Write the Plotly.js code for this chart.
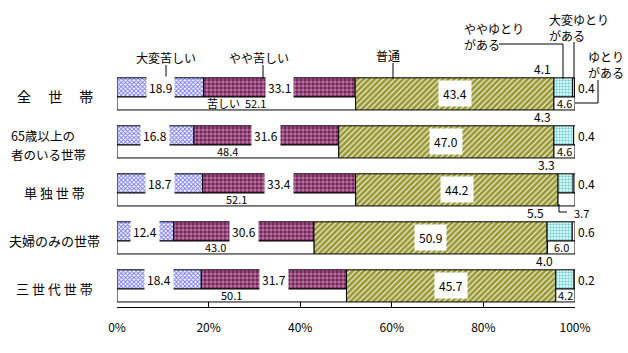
<!DOCTYPE html>
<html>
<head>
<meta charset="utf-8">
<script src="https://cdn.plot.ly/plotly-3.0.1.min.js"></script>
<style>html,body{margin:0;padding:0;background:#fff;}#chart{width:628px;height:353px;}</style>
</head>
<body>
<div id="chart"></div>
<script>
// ---- data ----
const categories = ['全世帯', '65歳以上の者のいる世帯', '単独世帯', '夫婦のみの世帯', '三世代世帯'];
const categoryLabels = ['全　 世　 帯', '65歳以上の<br>者のいる世帯', '単 独 世 帯', '夫婦のみの世帯', '三 世 代 世 帯'];
const veryHard = [18.9, 16.8, 18.7, 12.4, 18.4];        // 大変苦しい
const somewhatHard = [33.1, 31.6, 33.4, 30.6, 31.7];    // やや苦しい
const normal = [43.4, 47.0, 44.2, 50.9, 45.7];          // 普通
const somewhatEasy = [4.1, 4.3, 3.3, 5.5, 4.0];         // ややゆとりがある
const veryEasy = [0.4, 0.4, 0.4, 0.6, 0.2];             // 大変ゆとりがある
const hardTotal = [52.1, 48.4, 52.1, 43.0, 50.1];       // 苦しい
const easyTotal = [4.6, 4.6, 3.7, 6.0, 4.2];            // ゆとりがある
const xTicks = [0, 20, 40, 60, 80, 100];

// ---- geometry helpers (style only) ----
const FONT = '"Noto Sans CJK JP", "Noto Sans", sans-serif';
const L = 117, R = 575, T = 40, B = 307;
const PX = p => (p - L) / (R - L);
const PY = p => (B - p) / (B - T);
const TOP_OFF = -0.40, TOP_W = 0.40, BOT_OFF = 0, BOT_W = 0.27;

const base1 = veryHard.map(() => 0);
const base2 = veryHard.slice();
const base3 = veryHard.map((v, i) => v + somewhatHard[i]);
const base4 = base3.map((v, i) => v + normal[i]);
const base5 = base4.map((v, i) => v + somewhatEasy[i]);
const easyBase = easyTotal.map(v => 100 - v);

const line = {color: '#000', width: 1};
function seg(name, x, base, off, w, color, pattern) {
  const m = {color: color, line: line};
  if (pattern) m.pattern = pattern;
  return {type: 'bar', orientation: 'h', name: name, y: categories, x: x, base: base,
          offset: off, width: w, marker: m, hoverinfo: 'skip', showlegend: false};
}

const traces = [
  seg('大変苦しい', veryHard, base1, TOP_OFF, TOP_W, '#ffffff',
      {shape: 'x', fgcolor: '#6f6fff', bgcolor: '#ffffff', size: 3, solidity: 0.5}),
  seg('やや苦しい', somewhatHard, base2, TOP_OFF, TOP_W, '#7a1f5c',
      {shape: '+', fgcolor: '#ffffff', bgcolor: '#7a1f5c', size: 4, solidity: 0.2}),
  seg('普通', normal, base3, TOP_OFF, TOP_W + BOT_W, '#999933',
      {shape: '/', fgcolor: '#ffffff', bgcolor: '#999933', size: 4, solidity: 0.25}),
  seg('ややゆとりがある', somewhatEasy, base4, TOP_OFF, TOP_W, '#c8eeee',
      {shape: '.', fgcolor: '#66cccc', bgcolor: '#d8f4f4', size: 3, solidity: 0.4}),
  seg('大変ゆとりがある', veryEasy, base5, TOP_OFF, TOP_W, '#ffffff', null),
  seg('苦しい', hardTotal, base1, BOT_OFF, BOT_W, '#ffffff', null),
  seg('ゆとりがある', easyTotal, easyBase, BOT_OFF, BOT_W, '#ffffff', null)
];

const annotations = [];
const shapes = [];
const f12 = {family: FONT, size: 12, color: '#000'};
const f11 = {family: FONT, size: 11, color: '#000'};

categories.forEach((c, i) => {
  // category label (multi-line labels split into separate lines)
  const parts = categoryLabels[i].split('<br>');
  parts.forEach((p, k) => {
    const multi = parts.length > 1;
    const dy = multi ? (k === 0 ? -0.2 : 0.2) : -0.02;
    annotations.push({xref: 'paper', yref: 'y', x: PX(multi ? 10 : 55), y: i + dy, text: p,
      showarrow: false, xanchor: multi ? 'left' : 'center', yanchor: 'middle', borderpad: 0,
      font: {family: FONT, size: i === 0 ? 14 : (multi ? 12.5 : 13), color: '#000'}});
  });
  const topY = i + TOP_OFF + TOP_W / 2;
  // white-box labels
  annotations.push({x: base1[i] + veryHard[i] / 2, y: topY, text: veryHard[i].toFixed(1),
    showarrow: false, bgcolor: '#fff', borderpad: 2, font: f12});
  annotations.push({x: base2[i] + somewhatHard[i] / 2, y: topY, text: somewhatHard[i].toFixed(1),
    showarrow: false, bgcolor: '#fff', borderpad: 2, font: f12});
  annotations.push({x: base3[i] + normal[i] / 2, y: i + TOP_OFF + (TOP_W + BOT_W) / 2,
    text: normal[i].toFixed(1), showarrow: false, bgcolor: '#fff', borderpad: 4, font: f12});
  // somewhat easy, above bar
  annotations.push({x: base4[i], y: i + TOP_OFF, text: somewhatEasy[i].toFixed(1),
    showarrow: false, xanchor: 'right', yanchor: 'bottom', xshift: -1, yshift: -1, font: f12});
  // very easy, right of bar
  annotations.push({x: 100, y: topY, text: veryEasy[i].toFixed(1),
    showarrow: false, xanchor: 'left', xshift: 1, font: f12});
  // bottom totals
  annotations.push({x: hardTotal[i] / 2, y: i + BOT_OFF + BOT_W / 2,
    text: (i === 0 ? '苦しい  ' : '') + hardTotal[i].toFixed(1), showarrow: false, font: f11});
  if (i === 2) {
    annotations.push({x: 100, y: i + BOT_OFF + BOT_W + 0.14, text: easyTotal[i].toFixed(1),
      showarrow: false, xanchor: 'left', xshift: -3, font: f11});
  } else {
    annotations.push({x: 100 - easyTotal[i] / 2, y: i + BOT_OFF + BOT_W / 2,
      text: easyTotal[i].toFixed(1), showarrow: false, font: f11});
  }
});

// leader from the 3.7 box
shapes.push({type: 'path', xref: 'paper', yref: 'paper',
  path: `M ${PX(559)} ${PY(204)} L ${PX(559)} ${PY(212)} L ${PX(567)} ${PY(212)}`,
  line: {color: '#000', width: 1}});

// callout headers
function hdr(text, cx, cy, xa) {
  annotations.push({xref: 'paper', yref: 'paper', x: PX(cx), y: PY(cy), text: text,
    showarrow: false, xanchor: xa || 'center', yanchor: 'middle', align: 'left', font: f12});
}
function ln(pts) {
  shapes.push({type: 'path', xref: 'paper', yref: 'paper',
    path: pts.map((p, k) => (k ? 'L ' : 'M ') + PX(p[0]) + ' ' + PY(p[1])).join(' '),
    line: {color: '#000', width: 1}});
}
hdr('大変苦しい', 166, 57);
ln([[166, 65], [166, 79]]);
hdr('やや苦しい', 259, 57);
ln([[263, 65], [263, 79]]);
hdr('普通', 388, 55);
ln([[393, 63], [393, 79]]);
hdr('ややゆとり<br>がある', 462, 37, 'left');
ln([[499, 44], [563, 44], [563, 79]]);
hdr('大変ゆとり<br>がある', 547, 28, 'left');
ln([[574, 42], [574, 79]]);
hdr('ゆとり<br>がある', 586, 64, 'left');
ln([[598, 80], [598, 103], [575, 103]]);

const layout = {
  width: 628, height: 353,
  margin: {l: L, r: 628 - R, t: T, b: 353 - B, pad: 0},
  paper_bgcolor: '#fff', plot_bgcolor: '#fff',
  barmode: 'overlay',
  showlegend: false,
  font: {family: FONT, size: 12, color: '#000'},
  xaxis: {range: [0, 100], tickvals: xTicks, ticktext: xTicks.map(v => v + '%'),
    ticks: 'inside', ticklen: 5, tickcolor: '#000', showline: true, linecolor: '#000', linewidth: 1,
    showgrid: false, zeroline: false, ticklabelstandoff: 10, tickfont: {family: FONT, size: 12, color: '#000'},
    fixedrange: true},
  // category i sits at pixel 97 + 48*i
  yaxis: {type: 'category', categoryorder: 'array', categoryarray: categories,
    range: [4 + (B - 289) / 48, -(97 - T) / 48], showticklabels: false, ticks: '',
    showline: false, showgrid: false, zeroline: false, fixedrange: true},
  annotations: annotations,
  shapes: shapes
};

Plotly.newPlot('chart', traces, layout, {staticPlot: true, displayModeBar: false});
</script>
</body>
</html>
